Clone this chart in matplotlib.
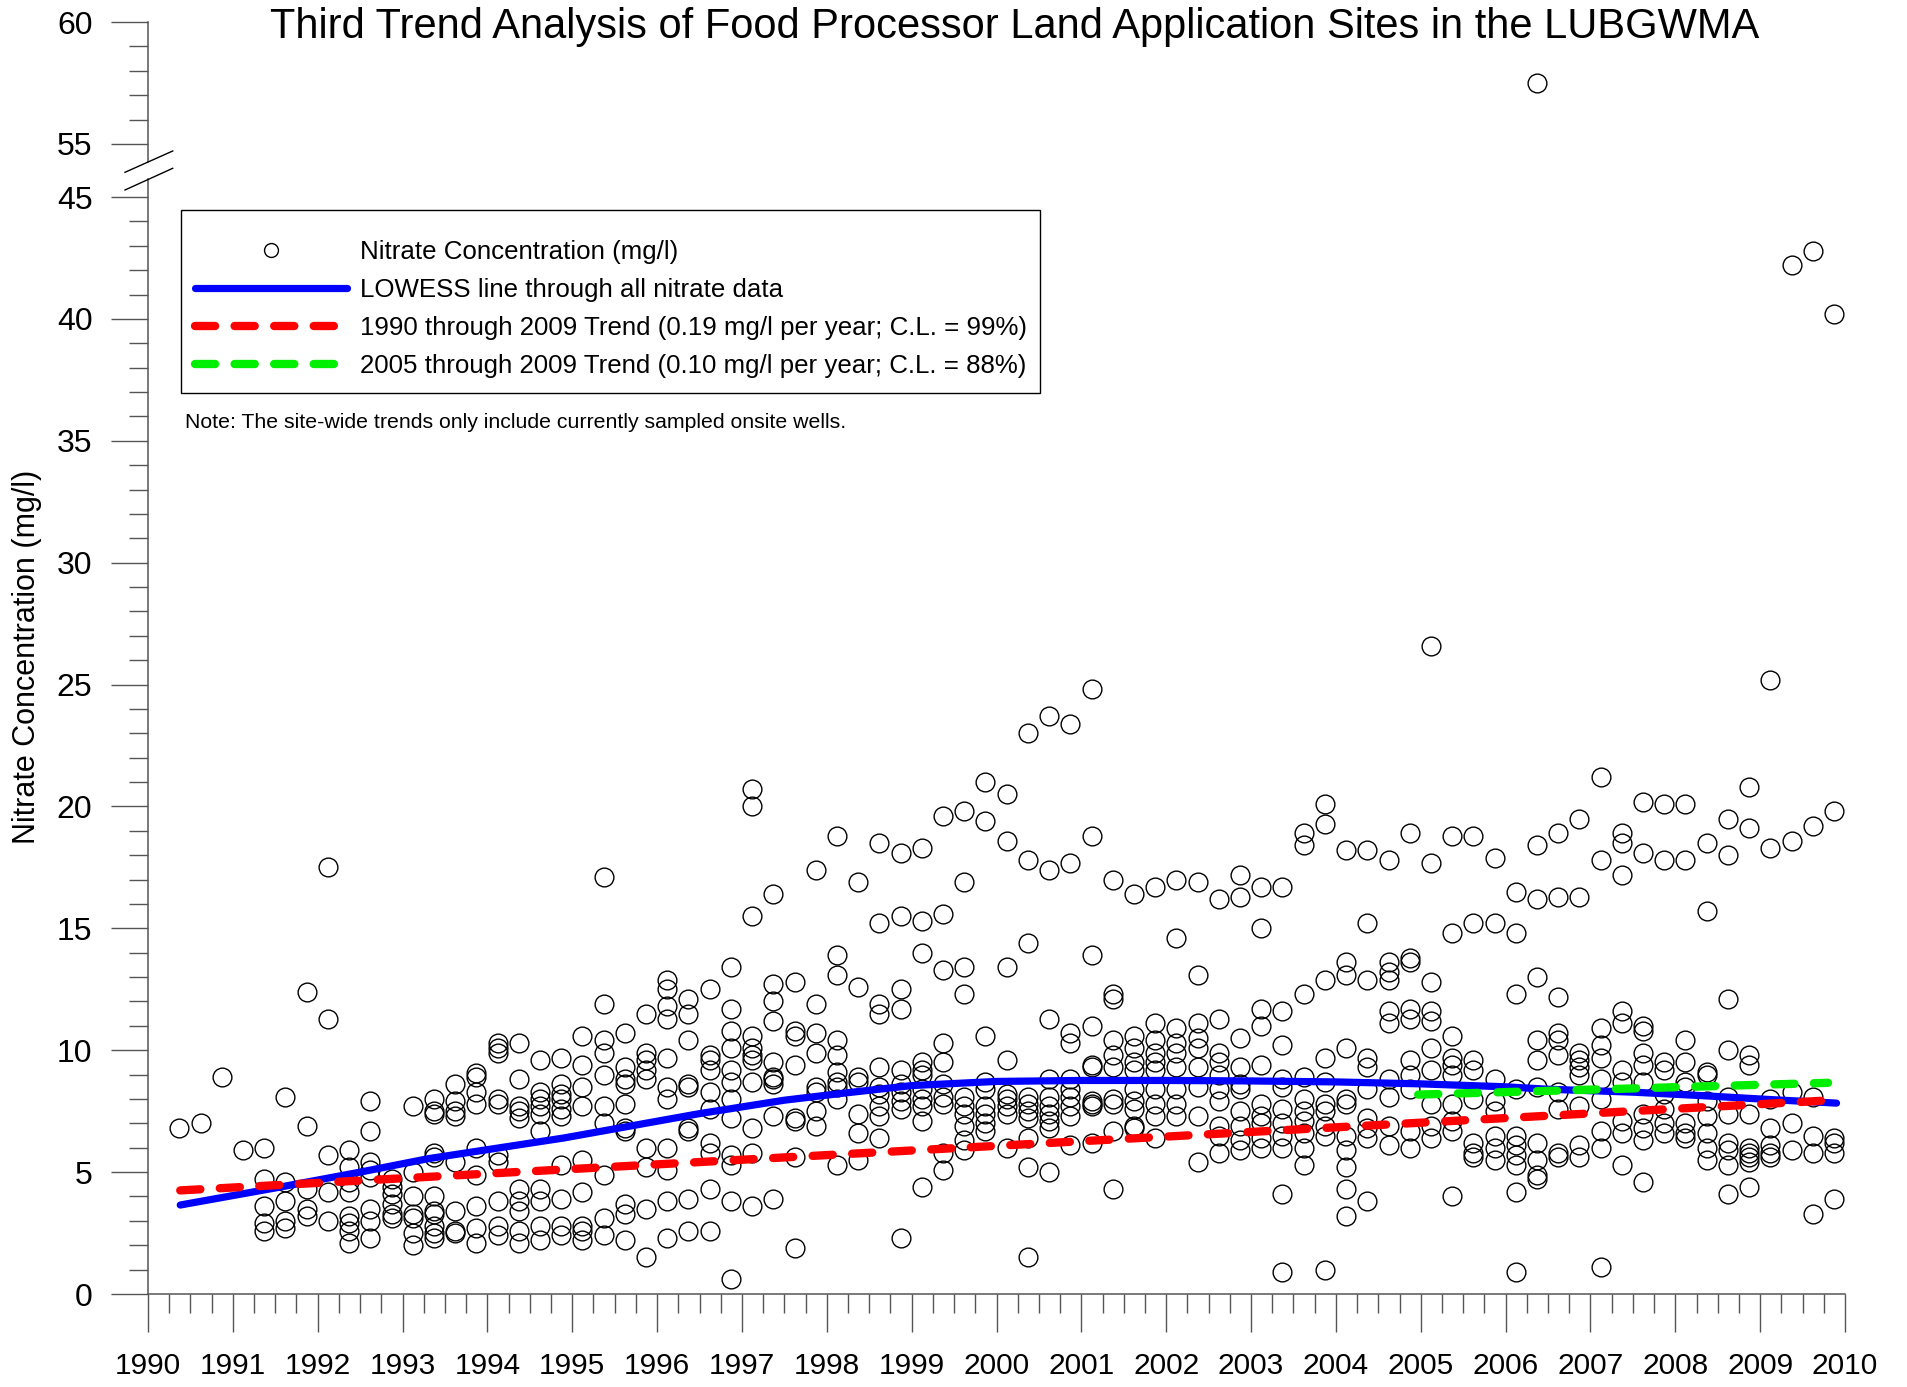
import matplotlib
matplotlib.use("Agg")
import matplotlib.pyplot as plt
from matplotlib.ticker import MultipleLocator, FormatStrFormatter
from matplotlib.lines import Line2D
from matplotlib.patches import Rectangle
import numpy as np

plt.rcParams['font.family'] = ['Liberation Sans', 'DejaVu Sans']
plt.rcParams['lines.scale_dashes'] = False

# ---------------------------------------------------------------- data
# quarterly sampling events (decimal year) and nitrate results (mg/l)
sample_years = [
    1990.37, 1990.62, 1990.87, 1991.12, 1991.37, 1991.62, 1991.87, 1992.12,
    1992.37, 1992.62, 1992.87, 1993.12, 1993.37, 1993.62, 1993.87, 1994.12,
    1994.37, 1994.62, 1994.87, 1995.12, 1995.37, 1995.62, 1995.87, 1996.12,
    1996.37, 1996.62, 1996.87, 1997.12, 1997.37, 1997.62, 1997.87, 1998.12,
    1998.37, 1998.62, 1998.87, 1999.12, 1999.37, 1999.62, 1999.87, 2000.12,
    2000.37, 2000.62, 2000.87, 2001.12, 2001.37, 2001.62, 2001.87, 2002.12,
    2002.37, 2002.62, 2002.87, 2003.12, 2003.37, 2003.62, 2003.87, 2004.12,
    2004.37, 2004.62, 2004.87, 2005.12, 2005.37, 2005.62, 2005.87, 2006.12,
    2006.37, 2006.62, 2006.87, 2007.12, 2007.37, 2007.62, 2007.87, 2008.12,
    2008.37, 2008.62, 2008.87, 2009.12, 2009.37, 2009.62, 2009.87,
]

nitrate_by_sample = [
    [6.8], [7.0], [8.9], [5.9],
    [6.0, 4.7, 3.6, 2.9, 2.6],
    [8.1, 4.6, 3.8, 3.0, 2.7],
    [12.4, 6.9, 4.3, 3.5, 3.2],
    [17.5, 11.3, 5.7, 4.2, 3.0],
    [5.9, 5.2, 4.6, 4.2, 3.2, 2.9, 2.6, 2.1],
    [7.9, 6.7, 5.4, 5.1, 4.8, 3.5, 3.0, 2.3],
    [4.7, 4.4, 4.1, 3.7, 3.3, 3.1],
    [7.7, 5.0, 4.0, 3.3, 3.1, 2.5, 2.0],
    [8.0, 7.5, 7.4, 5.8, 5.6, 4.0, 3.4, 3.3, 2.8, 2.5, 2.3],
    [8.6, 7.9, 7.5, 7.3, 5.4, 3.4, 2.6, 2.5],
    [9.05, 8.9, 8.3, 7.8, 6.0, 4.9, 3.6, 2.7, 2.1],
    [10.3, 10.1, 9.9, 8.0, 7.8, 5.7, 5.4, 3.8, 2.8, 2.4],
    [10.3, 8.8, 7.7, 7.5, 7.2, 4.3, 3.8, 3.4, 2.6, 2.1],
    [9.6, 8.3, 8.0, 7.7, 7.4, 6.7, 4.3, 3.8, 2.8, 2.2],
    [9.7, 8.6, 8.2, 8.0, 7.6, 7.3, 5.3, 3.9, 2.8, 2.4],
    [10.6, 9.4, 8.5, 7.7, 5.5, 4.2, 2.8, 2.6, 2.2],
    [17.1, 11.9, 10.4, 9.9, 9.0, 7.7, 7.0, 4.9, 3.1, 2.4],
    [10.7, 9.3, 8.8, 8.6, 7.8, 6.8, 6.7, 3.7, 3.3, 2.2],
    [11.5, 9.9, 9.6, 9.2, 8.8, 6.0, 5.2, 3.5, 1.5],
    [12.9, 12.5, 11.8, 11.3, 9.7, 8.5, 8.0, 6.0, 5.1, 3.8, 2.3],
    [12.1, 11.5, 10.4, 8.6, 8.5, 6.8, 6.7, 3.9, 2.6],
    [12.5, 9.8, 9.6, 9.2, 8.3, 7.6, 6.2, 5.8, 4.3, 2.6],
    [13.4, 11.7, 10.8, 10.1, 9.2, 8.7, 8.0, 7.2, 5.7, 5.3, 3.8, 0.6],
    [20.7, 20.0, 15.5, 10.6, 10.1, 9.8, 9.6, 8.7, 6.8, 5.8, 3.6],
    [16.4, 12.7, 12.0, 11.2, 9.5, 8.9, 8.8, 8.6, 7.3, 3.9],
    [12.8, 10.8, 10.6, 9.4, 7.2, 7.1, 5.6, 1.9],
    [17.4, 11.9, 10.7, 9.9, 8.5, 8.3, 7.5, 6.9],
    [18.8, 13.9, 13.1, 10.4, 9.8, 9.1, 8.7, 8.5, 8.0, 5.3],
    [16.9, 12.6, 8.9, 8.7, 7.4, 6.6, 5.5],
    [18.5, 15.2, 11.9, 11.5, 9.3, 8.5, 8.2, 7.7, 7.3, 6.4],
    [18.1, 15.5, 12.5, 11.7, 9.2, 8.6, 8.3, 7.9, 7.6, 2.3],
    [18.3, 15.3, 14.0, 9.5, 9.2, 9.0, 8.4, 8.0, 7.7, 7.1, 4.4],
    [19.6, 15.6, 13.3, 10.3, 9.5, 8.6, 8.1, 7.8, 5.8, 5.1],
    [19.8, 16.9, 13.4, 12.3, 8.1, 7.7, 7.4, 6.9, 6.3, 5.9],
    [21.0, 19.4, 10.6, 8.7, 8.4, 7.7, 7.4, 7.0, 6.7],
    [20.5, 18.6, 13.4, 9.6, 8.2, 8.0, 7.7, 7.4, 6.0],
    [23.0, 17.8, 14.4, 8.1, 7.8, 7.5, 7.2, 6.4, 5.2, 1.5],
    [23.7, 17.4, 11.3, 8.8, 8.1, 7.7, 7.4, 7.1, 6.8, 5.0],
    [23.4, 17.7, 10.7, 10.3, 8.8, 8.4, 8.1, 7.7, 7.3, 6.1],
    [24.8, 18.8, 13.9, 11.0, 9.4, 9.3, 7.9, 7.8, 7.7, 6.2],
    [17.0, 12.3, 12.1, 10.4, 9.8, 9.3, 8.0, 7.8, 6.7, 4.3],
    [16.4, 10.6, 10.1, 9.5, 9.2, 8.4, 7.9, 7.6, 6.9, 6.8],
    [16.7, 11.1, 10.4, 9.9, 9.5, 9.2, 8.4, 7.8, 7.3, 6.4],
    [17.0, 14.6, 10.9, 10.3, 9.9, 9.3, 8.4, 7.8, 7.3],
    [16.9, 13.1, 11.1, 10.5, 10.1, 9.3, 8.5, 7.3, 5.4],
    [16.2, 11.3, 9.9, 9.5, 9.0, 8.4, 7.9, 6.9, 6.5, 5.8],
    [17.2, 16.3, 10.5, 9.3, 8.6, 8.4, 7.5, 6.9, 6.3, 5.9],
    [16.7, 15.0, 11.7, 11.0, 9.4, 7.8, 7.3, 7.0, 6.4, 6.0],
    [16.7, 11.6, 10.2, 8.8, 8.5, 7.6, 7.0, 6.5, 6.0, 4.1, 0.9],
    [18.9, 18.4, 12.3, 8.9, 8.0, 7.5, 7.1, 6.6, 6.0, 5.3],
    [20.1, 19.3, 12.9, 9.7, 8.7, 7.8, 7.5, 6.9, 6.5, 1.0],
    [18.2, 13.6, 13.1, 10.1, 8.0, 7.8, 6.5, 5.9, 5.2, 4.3, 3.2],
    [18.2, 15.2, 12.9, 9.7, 9.3, 8.4, 7.2, 6.8, 6.4, 3.8],
    [17.8, 13.6, 13.2, 12.9, 11.6, 11.1, 8.8, 8.1, 6.9, 6.1],
    [18.9, 13.8, 13.6, 11.7, 11.3, 9.6, 9.0, 8.4, 6.7, 6.0],
    [26.6, 17.7, 12.8, 11.6, 11.2, 10.1, 9.2, 7.8, 6.9, 6.4],
    [18.8, 14.8, 10.6, 9.7, 9.4, 9.0, 7.8, 7.1, 6.7, 4.0],
    [18.8, 15.2, 9.6, 9.2, 8.0, 6.2, 5.8, 5.6],
    [17.9, 15.2, 8.8, 7.9, 7.5, 6.5, 6.0, 5.5],
    [16.5, 14.8, 12.3, 8.4, 6.5, 6.1, 5.7, 5.3, 4.2, 0.9],
    [57.5, 18.4, 16.2, 13.0, 10.4, 9.6, 8.5, 6.2, 5.5, 4.9, 4.7],
    [18.9, 16.3, 12.2, 10.7, 10.4, 9.8, 8.3, 7.6, 5.8, 5.6],
    [19.5, 16.3, 9.9, 9.6, 9.3, 9.0, 7.7, 6.1, 5.6],
    [21.2, 17.8, 10.9, 10.2, 9.7, 8.8, 8.0, 6.7, 6.0, 1.1],
    [18.9, 18.5, 17.2, 11.6, 11.1, 9.2, 8.7, 7.1, 6.6, 5.3],
    [20.2, 18.1, 11.0, 10.8, 9.9, 9.4, 8.7, 7.4, 6.8, 6.3, 4.6],
    [20.1, 17.8, 9.5, 9.2, 8.2, 7.6, 7.0, 6.6],
    [20.1, 17.8, 10.4, 9.5, 8.7, 8.5, 7.0, 6.6, 6.4],
    [18.5, 15.7, 9.1, 9.0, 7.9, 7.3, 6.6, 6.0, 5.5],
    [19.5, 18.0, 12.1, 10.0, 8.1, 7.4, 6.2, 5.9, 5.3, 4.1],
    [20.8, 19.1, 9.8, 9.4, 7.4, 6.0, 5.8, 5.6, 5.4, 4.4],
    [25.2, 18.3, 8.0, 6.8, 6.1, 5.8, 5.6],
    [42.2, 18.6, 8.3, 7.0, 5.9],
    [42.8, 19.2, 8.1, 6.5, 5.8, 3.3],
    [40.2, 19.8, 6.4, 6.2, 5.8, 3.9],
]

# LOWESS smooth through all nitrate data
lowess_years = [1990.38, 1991.5, 1992.5, 1993.3, 1994.9, 1996.5, 1997.5,
                1998.2, 1999.0, 2000.0, 2001.0, 2002.0, 2003.0, 2004.0,
                2005.0, 2006.0, 2006.5, 2007.5, 2008.3, 2009.0, 2009.9]
lowess_values = [3.65, 4.35, 5.0, 5.55, 6.4, 7.4, 7.95, 8.24, 8.55, 8.72,
                 8.76, 8.76, 8.74, 8.70, 8.62, 8.50, 8.40, 8.28, 8.14, 8.0,
                 7.83]

# Sen-slope trend lines: period, starting value, slope (mg/l per year)
trend_all_years = [1990.38, 2009.9]
trend_all_start = 4.25
trend_all_slope = 0.19

trend_recent_years = [2004.97, 2009.8]
trend_recent_start = 8.18
trend_recent_slope = 0.10

legend_labels = [
    "Nitrate Concentration (mg/l)",
    "LOWESS line through all nitrate data",
    "1990 through 2009 Trend (0.19 mg/l per year; C.L. = 99%)",
    "2005 through 2009 Trend (0.10 mg/l per year; C.L. = 88%)",
]

# ---------------------------------------------------------------- layout
W, H = 1907, 1387
DPI = 100
fig = plt.figure(figsize=(W / DPI, H / DPI), dpi=DPI)


def fx(px):
    return px / W


def fy(py):
    return 1 - py / H


x_left, x_right = 148, 1845
low_bottom, low_top = 1294, 179     # 0 .. 45.74 mg/l
up_bottom, up_top = 162, 22         # 54.26 .. 60 mg/l

ax = fig.add_axes([fx(x_left), fy(low_bottom), (x_right - x_left) / W,
                   (low_bottom - low_top) / H])
ax_up = fig.add_axes([fx(x_left), fy(up_bottom), (x_right - x_left) / W,
                      (up_bottom - up_top) / H], sharex=ax)

ax.set_xlim(1990, 2010)
ax.set_ylim(0, 45.74)
ax_up.set_ylim(54.26, 60)

spine_col = '#555555'
for a in (ax, ax_up):
    a.spines['top'].set_visible(False)
    a.spines['right'].set_visible(False)
    a.spines['left'].set_color(spine_col)
    a.spines['left'].set_linewidth(1.1)
    a.set_facecolor('none')
ax.spines['bottom'].set_color(spine_col)
ax.spines['bottom'].set_linewidth(1.1)
ax_up.spines['bottom'].set_visible(False)

ax.xaxis.set_major_locator(MultipleLocator(1))
ax.xaxis.set_minor_locator(MultipleLocator(0.25))
ax.xaxis.set_major_formatter(FormatStrFormatter('%d'))
for a in (ax, ax_up):
    a.yaxis.set_major_locator(MultipleLocator(5))
    a.yaxis.set_minor_locator(MultipleLocator(1))
    a.yaxis.set_major_formatter(FormatStrFormatter('%d'))
    a.tick_params(axis='y', which='major', direction='out', length=27,
                  width=1.0, color=spine_col, labelsize=23, pad=13)
    a.tick_params(axis='y', which='minor', direction='out', length=14,
                  width=1.0, color=spine_col)
ax.tick_params(axis='x', which='major', direction='out', length=27,
               width=1.0, color=spine_col, labelsize=21.5, pad=15)
ax.tick_params(axis='x', which='minor', direction='out', length=14,
               width=1.0, color=spine_col)
ax_up.tick_params(axis='x', which='both', bottom=False, labelbottom=False)

# ---------------------------------------------------------------- marks
xs = np.concatenate([np.full(len(v), t) for t, v in
                     zip(sample_years, nitrate_by_sample)])
ys = np.concatenate([np.asarray(v, float) for v in nitrate_by_sample])

marker_kw = dict(linestyle='none', marker='o', markersize=13.5,
                 markerfacecolor='none', markeredgecolor='black',
                 markeredgewidth=1.0)
dash_kw = dict(linewidth=6, dashes=(14.5, 14.0), dash_capstyle='round',
               solid_capstyle='round')

for a in (ax, ax_up):
    a.plot(xs, ys, zorder=2, **marker_kw)

ax.plot(lowess_years, lowess_values, color='#0000ff', linewidth=5.2,
        solid_capstyle='round', zorder=3)

t_all = np.array(trend_all_years)
ax.plot(t_all, trend_all_start + trend_all_slope * (t_all - t_all[0]),
        color='#ff0000', zorder=4, **dash_kw)

t_rec = np.array(trend_recent_years)
ax.plot(t_rec, trend_recent_start + trend_recent_slope * (t_rec - t_rec[0]),
        color='#00ee00', zorder=5, **dash_kw)

# ---------------------------------------------------------------- legend
legend_marker_kw = dict(marker_kw, markersize=10)
handles = [
    Line2D([], [], **legend_marker_kw),
    Line2D([], [], color='#0000ff', linewidth=5.2, solid_capstyle='round'),
    Line2D([], [], color='#ff0000', **dash_kw),
    Line2D([], [], color='#00ee00', **dash_kw),
]
leg_fs = 18.6
leg = ax.legend(handles, legend_labels, loc='upper left',
                bbox_to_anchor=(fx(195), fy(240)),
                bbox_transform=fig.transFigure, frameon=False,
                fontsize=leg_fs, handlelength=5.88, handletextpad=0.52,
                labelspacing=0.54, borderpad=0, borderaxespad=0,
                numpoints=1)
leg.set_zorder(10)
fig.add_artist(Rectangle((fx(181), fy(393)), (1040 - 181) / W,
                         (393 - 210) / H, transform=fig.transFigure,
                         facecolor='none', edgecolor='black',
                         linewidth=1.0))

fig.text(fx(185), fy(422), "Note: The site-wide trends only include "
         "currently sampled onsite wells.", fontsize=15.3, va='center',
         ha='left')

# axis break marks
for y0, y1 in ((172.3, 151.0), (190.0, 168.3)):
    fig.add_artist(Line2D([fx(125), fx(172.7)], [fy(y0), fy(y1)],
                          transform=fig.transFigure, color='black',
                          linewidth=1.0))

fig.text(fx(1015), fy(38), "Third Trend Analysis of Food Processor Land "
         "Application Sites in the LUBGWMA", fontsize=30, ha='center',
         va='baseline')
fig.text(fx(27), fy(657), "Nitrate Concentration (mg/l)", fontsize=22,
         rotation=90, ha='center', va='center')

fig.savefig('out.png', dpi=DPI)
